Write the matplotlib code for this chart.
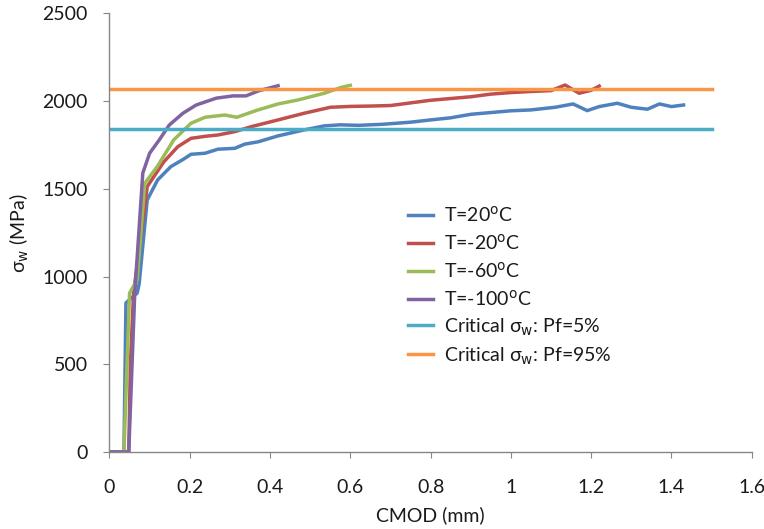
import matplotlib
matplotlib.use('Agg')
import matplotlib.pyplot as plt

plt.rcParams['font.family'] = ['Lato', 'DejaVu Sans']
plt.rcParams['mathtext.fontset'] = 'dejavusans'

# ---- data ----
x_20 = [0, 0.036, 0.041, 0.069, 0.074, 0.094, 0.12, 0.153, 0.185, 0.203, 0.238, 0.27,
        0.312, 0.337, 0.37, 0.42, 0.485, 0.535, 0.575, 0.62, 0.68, 0.75, 0.8, 0.85,
        0.9, 0.95, 1.0, 1.05, 1.11, 1.155, 1.19, 1.22, 1.265, 1.3, 1.34, 1.37, 1.4, 1.43]
y_20 = [0, 0, 850, 906, 960, 1437, 1551, 1627, 1670, 1697, 1703, 1726,
        1731, 1755, 1768, 1802, 1836, 1859, 1865, 1862, 1868, 1880, 1893, 1905,
        1925, 1935, 1945, 1950, 1965, 1984, 1946, 1969, 1988, 1965, 1954, 1984, 1969, 1978]

x_m20 = [0, 0.048, 0.052, 0.06, 0.094, 0.135, 0.17, 0.203, 0.24, 0.27, 0.312, 0.354,
         0.42, 0.485, 0.55, 0.6, 0.65, 0.7, 0.75, 0.8, 0.85, 0.9, 0.95, 1.0, 1.05,
         1.1, 1.135, 1.17, 1.2, 1.22]
y_m20 = [0, 0, 500, 906, 1513, 1653, 1740, 1788, 1800, 1807, 1826, 1855,
         1893, 1931, 1965, 1970, 1972, 1975, 1990, 2005, 2015, 2025, 2040, 2049, 2055,
         2060, 2092, 2045, 2062, 2086]

x_m60 = [0, 0.036, 0.05, 0.069, 0.088, 0.119, 0.16, 0.203, 0.238, 0.287, 0.317,
         0.37, 0.42, 0.47, 0.535, 0.578, 0.6]
y_m60 = [0, 0, 906, 982, 1532, 1627, 1779, 1874, 1908, 1921, 1908,
         1950, 1984, 2007, 2045, 2079, 2090]

x_m100 = [0, 0.048, 0.063, 0.083, 0.1, 0.124, 0.149, 0.183, 0.216, 0.266, 0.308,
          0.34, 0.373, 0.42]
y_m100 = [0, 0, 906, 1590, 1703, 1779, 1864, 1931, 1978, 2017, 2030,
          2030, 2060, 2088]

crit_x = [0, 1.5]
crit_5 = 1840
crit_95 = 2068

labels = ['T=20$^\\mathrm{o}$C', 'T=-20$^\\mathrm{o}$C', 'T=-60$^\\mathrm{o}$C',
          'T=-100$^\\mathrm{o}$C',
          'Critical σ$_\\mathrm{w}$: Pf=5%', 'Critical σ$_\\mathrm{w}$: Pf=95%']
colors = ['#4F81BD', '#C0504D', '#9BBB59', '#8064A2', '#4BACC6', '#F79646']

# ---- plot ----
fig = plt.figure(figsize=(7.64, 5.29), dpi=100)
ax = fig.add_axes([0.1433, 0.1456, 0.8407, 0.829])

lw = 2.5
ax.plot(x_20, y_20, color=colors[0], lw=lw, label=labels[0])
ax.plot(x_m20, y_m20, color=colors[1], lw=lw, label=labels[1])
ax.plot(x_m60, y_m60, color=colors[2], lw=lw, label=labels[2])
ax.plot(x_m100, y_m100, color=colors[3], lw=lw, label=labels[3])
ax.plot(crit_x, [crit_5, crit_5], color=colors[4], lw=lw, label=labels[4])
ax.plot(crit_x, [crit_95, crit_95], color=colors[5], lw=lw, label=labels[5])

ax.set_xlim(0, 1.6)
ax.set_ylim(0, 2500)
ax.set_xticks([0, 0.2, 0.4, 0.6, 0.8, 1.0, 1.2, 1.4, 1.6])
ax.set_xticklabels(['0', '0.2', '0.4', '0.6', '0.8', '1', '1.2', '1.4', '1.6'])
ax.set_yticks(range(0, 2501, 500))

for s in ['top', 'right']:
    ax.spines[s].set_visible(False)
for s in ['left', 'bottom']:
    ax.spines[s].set_color('#868686')
    ax.spines[s].set_linewidth(1.0)
ax.tick_params(axis='both', direction='out', length=4.5, color='#868686',
               labelsize=14, labelcolor='#1a1a1a')
ax.tick_params(axis='x', pad=15)
ax.tick_params(axis='y', pad=11)

ax.set_xlabel('CMOD (mm)', fontsize=14, labelpad=7.5, color='#1a1a1a')
ax.set_ylabel('σ$_\\mathrm{w}$ (MPa)', fontsize=14, labelpad=8, color='#1a1a1a')

leg = ax.legend(loc='upper left', bbox_to_anchor=(0.524, 0.627), bbox_transform=fig.transFigure,
                frameon=False, fontsize=14, handlelength=1.3, handletextpad=0.55,
                labelspacing=0.4, borderaxespad=0)
for t in leg.get_texts():
    t.set_color('#1a1a1a')

fig.savefig('out.png', dpi=100)
